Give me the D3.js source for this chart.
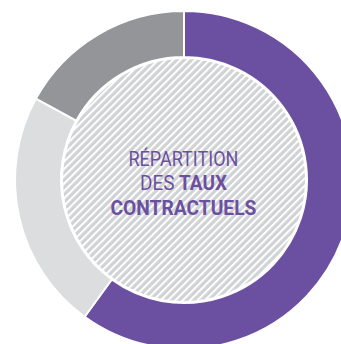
<!DOCTYPE html>
<html>
<head>
<meta charset="utf-8">
<script src="https://cdn.jsdelivr.net/npm/d3@7"></script>
<style>
  html, body { margin: 0; padding: 0; background: #fff; }
  svg { display: block; }
</style>
</head>
<body>
<svg id="chart" width="341" height="344"></svg>
<script>
// Share of each contractual rate type (%)
const categories = ["Taux fixe", "Taux variable", "Autres"];
const values = [60, 23, 17];
const colors = ["#6b50a1", "#dcdddf", "#939598"];

// Centre title, one entry per line; bold parts flagged
const titleLines = [
  [{ t: "RÉPARTITION", b: false }],
  [{ t: "DES ", b: false }, { t: "TAUX", b: true }],
  [{ t: "CONTRACTUELS", b: true }]
];

const svg = d3.select("#chart");
const cx = 184, cy = 180;
const outerR = 169, innerR = 123, coreR = 122;

const defs = svg.append("defs");
const pat = defs.append("pattern")
  .attr("id", "hatch")
  .attr("patternUnits", "userSpaceOnUse")
  .attr("width", 5.2).attr("height", 5.2)
  .attr("patternTransform", "rotate(45)");
pat.append("rect").attr("width", 5.2).attr("height", 5.2).attr("fill", "#d1d2d4");
pat.append("rect").attr("x", 0).attr("width", 2).attr("height", 5.2).attr("fill", "#ffffff");

const g = svg.append("g").attr("transform", `translate(${cx},${cy})`);

const pie = d3.pie().sort(null).value(d => d);
const arc = d3.arc().innerRadius(innerR).outerRadius(outerR);

g.selectAll("path.slice")
  .data(pie(values))
  .join("path")
  .attr("class", "slice")
  .attr("d", arc)
  .attr("fill", (d, i) => colors[i])
  .attr("stroke", "#fff")
  .attr("stroke-width", 2)
  .attr("stroke-linejoin", "miter");

g.append("circle")
  .attr("r", coreR)
  .attr("fill", "url(#hatch)")
  .attr("stroke", "#fff")
  .attr("stroke-width", 2);

// Title lines, condensed to their set widths
const baselines = [165.5, 190, 214.5];
const widths = [110, 87, 146];
const centreX = 183.5;
const fam = "Roboto, 'Liberation Sans', Arial, sans-serif";

titleLines.forEach((line, i) => {
  const txt = svg.append("text")
    .attr("x", 0).attr("y", 0)
    .attr("font-family", fam)
    .attr("font-size", 21)
    .attr("fill", "#6b50a1");
  line.forEach(p => {
    txt.append("tspan")
      .attr("font-weight", p.b ? 700 : 400)
      .text(p.t);
  });
  const w = txt.node().getComputedTextLength();
  const s = widths[i] / w;
  txt.attr("transform",
    `translate(${centreX - widths[i] / 2},${baselines[i]}) scale(${s},1)`);
});
</script>
</body>
</html>
